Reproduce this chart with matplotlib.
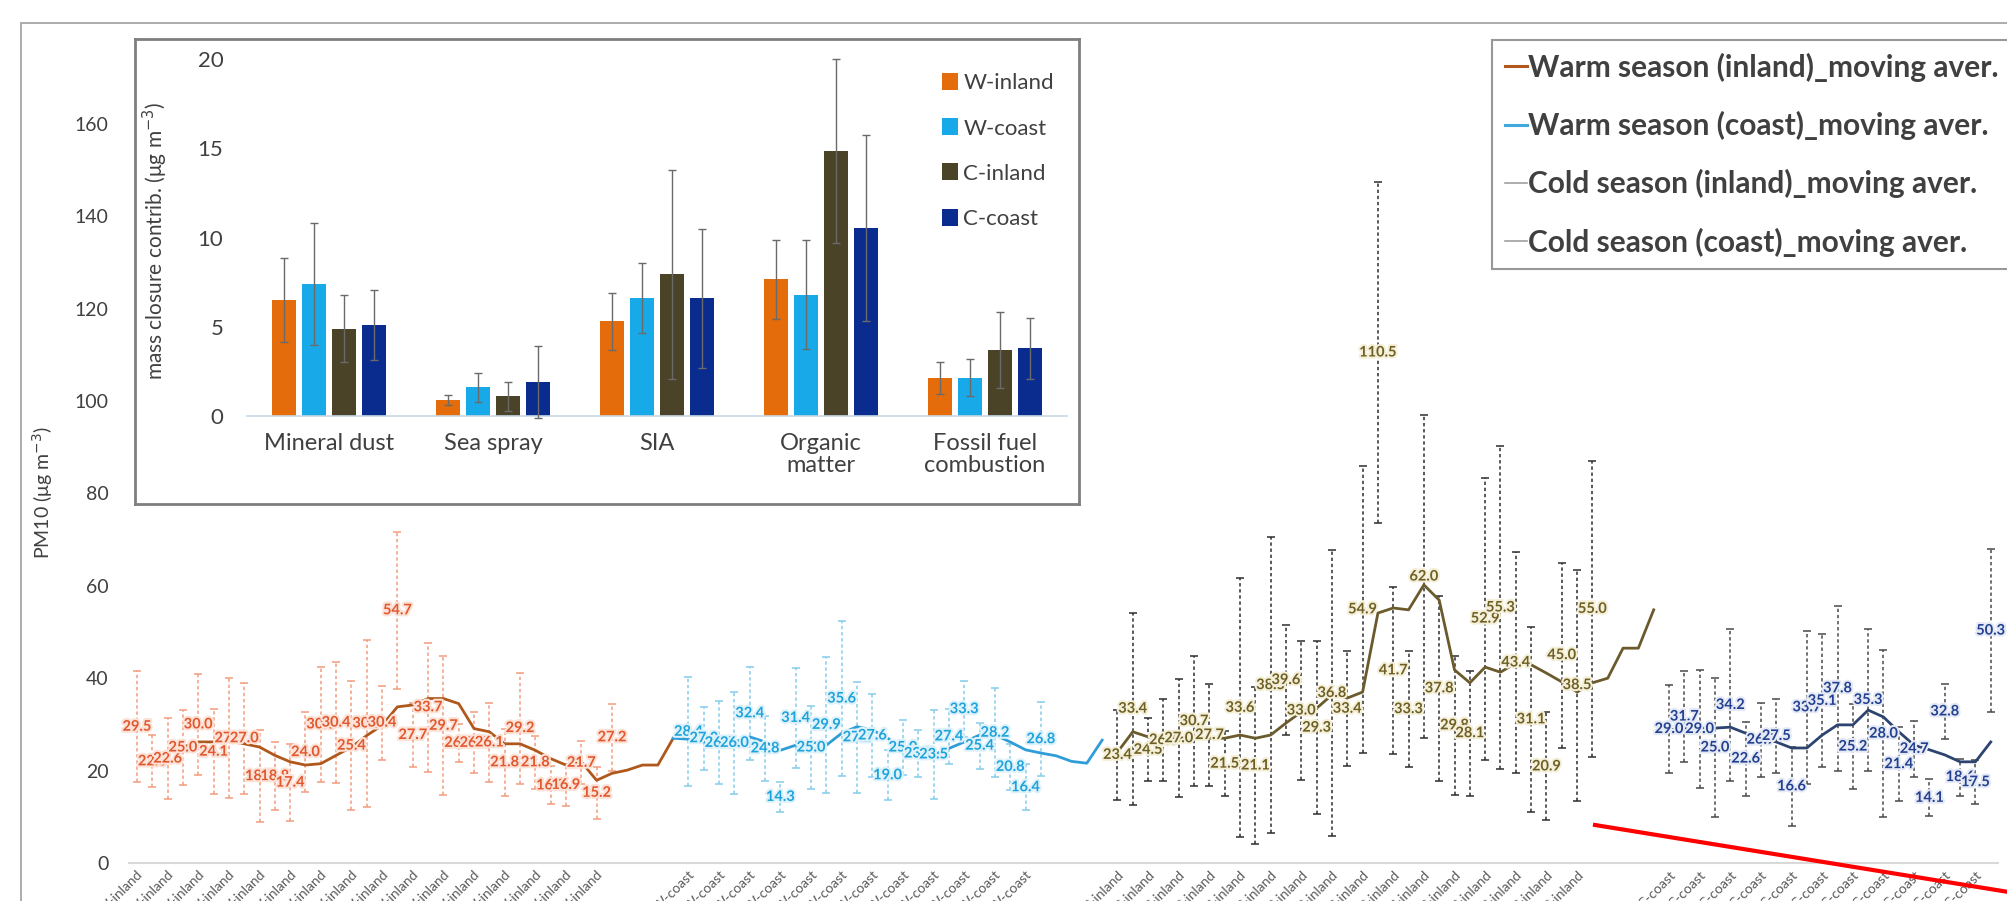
import matplotlib
matplotlib.use('Agg')
import matplotlib.pyplot as plt
import matplotlib.patheffects as pe
from matplotlib.lines import Line2D
from matplotlib.patches import Rectangle
import numpy as np

plt.rcParams['font.family'] = ['Lato', 'DejaVu Sans']

# ---------------- main chart data (PM10 per sample) ----------------
n_cat = 122
wi_start, wc_start, ci_start, cc_start = 0, 36, 64, 100

wi_val = [29.5, 22.0, 22.6, 25.0, 30.0, 24.1, 27.0, 27.0, 18.8, 18.8, 17.4, 24.0, 30.0, 30.4, 25.4, 30.2,
          30.4, 54.7, 27.7, 33.7, 29.7, 26.0, 26.0, 26.1, 21.8, 29.2, 21.8, 16.8, 16.9, 21.7, 15.2, 27.2]
wi_sd = [12, 5.6, 8.7, 8.1, 11, 9.2, 13, 12, 10, 7.3, 8.3, 8.7, 12.5, 13, 14, 18,
         8, 17, 7, 14, 15, 4.1, 6.6, 8.5, 7.3, 12, 5.7, 4.1, 4.5, 4.7, 5.6, 7.2]

wc_val = [28.4, 27.0, 26.0, 26.0, 32.4, 24.8, 14.3, 31.4, 25.0, 29.9, 35.6, 27.2,
          27.6, 19.0, 25.0, 23.7, 23.5, 27.4, 33.3, 25.4, 28.2, 20.8, 16.4, 26.8]
wc_sd = [11.8, 6.8, 9, 11, 10, 7, 3.2, 10.8, 9, 14.7, 16.8, 12,
         9, 5.4, 6, 5, 9.7, 6, 6, 5, 9.6, 5, 5, 8]

ci_val = [23.4, 33.4, 24.5, 26.6, 27.0, 30.7, 27.7, 21.5, 33.6, 21.1, 38.5, 39.6, 33.0, 29.3, 36.8, 33.4,
          54.9, 110.5, 41.7, 33.3, 62.0, 37.8, 29.8, 28.1, 52.9, 55.3, 43.4, 31.1, 20.9, 45.0, 38.5, 55.0]
ci_sd = [9.7, 20.8, 6.8, 8.9, 12.8, 14, 11, 7, 28, 17, 32, 12, 15, 18.7, 31, 12.5,
         31, 37, 18, 12.5, 35, 20, 15, 13.5, 30.5, 35, 24, 20, 11.7, 20, 25, 32]

cc_val = [29.0, 31.7, 29.0, 25.0, 34.2, 22.6, 26.7, 27.5, 16.6, 33.7, 35.1, 37.8, 25.2, 35.3, 28.0,
          21.4, 24.7, 14.1, 32.8, 18.6, 17.5, 50.3]
cc_sd = [9.5, 9.9, 12.7, 15, 16.5, 8, 8, 8, 8.5, 16.5, 14.4, 17.8, 9.2, 15.4, 18,
         8, 6, 4, 6, 4, 4.8, 17.6]

# moving averages
wi_ma_start = 3
wi_ma = [25.1, 26.2, 26.2, 26.4, 25.8, 25.1, 23.3, 21.9, 21.2, 21.5, 23.3, 25.1, 27.6, 29.8, 33.8, 34.2,
         35.6, 35.6, 34.5, 29.1, 28.4, 25.8, 25.8, 24.4, 22.6, 21.2, 21.9, 17.9, 19.4, 20.1, 21.2, 21.2, 27.0]
wc_ma_start = 35
wc_ma = [27.0, 26.8, 26.2, 25.5, 26.2, 27.3, 26.2, 24.4, 25.5, 26.2, 25.5, 28.1, 29.5, 28.8, 27.0,
         24.8, 23.4, 23.4, 24.8, 26.2, 27.7, 27.7, 26.2, 24.5, 23.8, 23.2, 22.0, 21.6, 26.6]
ci_ma_start = 64
ci_ma = [24.0, 28.4, 27.3, 27.0, 27.0, 27.3, 27.0, 27.0, 27.7, 27.0, 27.7, 30.3, 32.7, 33.5, 36.4, 35.7,
         37.0, 54.1, 55.2, 54.8, 60.2, 56.9, 41.8, 39.0, 42.4, 41.3, 43.3, 42.9, 41.1, 39.2, 37.0, 39.0,
         40.0, 46.5, 46.5, 54.8]
cc_ma_start = 100
cc_ma = [28.8, 29.2, 29.2, 29.2, 29.4, 28.1, 27.1, 26.2, 24.9, 24.9, 27.7, 29.9, 29.9, 33.1, 31.6,
         28.4, 25.5, 24.5, 23.4, 21.9, 21.9, 26.2]

legend_labels = ['Warm season (inland)_moving aver.', 'Warm season (coast)_moving aver.',
                 'Cold season (inland)_moving aver.', 'Cold season (coast)_moving aver.']

# ---------------- inset data (mass closure) ----------------
components = ['Mineral dust', 'Sea spray', 'SIA', 'Organic\nmatter', 'Fossil fuel\ncombustion']
inset_series = ['W-inland', 'W-coast', 'C-inland', 'C-coast']
w_inland = [6.5, 0.9, 5.3, 7.65, 2.15]
w_inland_err = [2.35, 0.3, 1.6, 2.2, 0.9]
w_coast = [7.4, 1.6, 6.6, 6.8, 2.15]
w_coast_err = [3.4, 0.8, 1.95, 3.05, 1.05]
c_inland = [4.9, 1.1, 7.95, 14.85, 3.7]
c_inland_err = [1.9, 0.8, 5.85, 5.15, 2.15]
c_coast = [5.1, 1.9, 6.6, 10.55, 3.8]
c_coast_err = [1.95, 2.0, 3.9, 5.2, 1.7]

W, H = 2008, 901
fig = plt.figure(figsize=(W / 100, H / 100), dpi=100)
fig.patch.set_facecolor('white')

# outer chart-area frame
fig.add_artist(Rectangle((21 / W, -0.1), 1.5, 1 - 23 / H + 0.1, transform=fig.transFigure,
                         fill=False, edgecolor='#A6A6A6', linewidth=1.3, zorder=0))

# ---------------- main axes ----------------
x0, x1 = 129.3, 1998.4
ytop = 54.5
ax = fig.add_axes([x0 / W, (H - 863) / H, (x1 - x0) / W, (863 - ytop) / H])
ax.set_xlim(-0.5, n_cat - 0.5)
ax.set_ylim(0, 175)
for s in ['top', 'right', 'left']:
    ax.spines[s].set_visible(False)
ax.spines['bottom'].set_color('#D9D9D9')
ax.spines['bottom'].set_linewidth(1.5)
ax.set_yticks(range(0, 161, 20))
ax.tick_params(axis='y', length=0, pad=15, labelsize=14, labelcolor='#404040')
ax.set_ylabel('PM10 (μg m$^{-3}$)', fontsize=14, color='#404040')
ax.yaxis.set_label_coords(-0.040, 0.458)

cat_labels = [''] * n_cat
groups = [
    (wi_start, wi_val, wi_sd, 'W-inland', '#F29C7E', '#E2572E', '#FBE1D6'),
    (wc_start, wc_val, wc_sd, 'W-coast', '#86CDEB', '#1CA3DB', '#DDF1FA'),
    (ci_start, ci_val, ci_sd, 'C-inland', '#2E2E2E', '#6E5F24', '#F4EFD8'),
    (cc_start, cc_val, cc_sd, 'C-coast', '#4A4A4A', '#22408F', '#E4E9F5'),
]
for start, vals, sds, name, ecol, tcol, glow in groups:
    xs = np.arange(start, start + len(vals))
    for i in xs:
        cat_labels[i] = name
    eb = ax.errorbar(xs, vals, yerr=sds, fmt='none', ecolor=ecol, elinewidth=1.1,
                     capsize=3, capthick=1.1, zorder=2)
    eb[2][0].set_linestyle((0, (2.2, 1.8)))
    for x, v in zip(xs, vals):
        ax.text(x, v, f'{v:.1f}', ha='center', va='center', fontsize=10.5, color=tcol,
                fontweight='bold', zorder=4,
                path_effects=[pe.withStroke(linewidth=3, foreground=glow)])

ma_sets = [
    (wi_ma_start, wi_ma, '#B0581C'),
    (wc_ma_start, wc_ma, '#2F9ED8'),
    (ci_ma_start, ci_ma, '#6A5A2C'),
    (cc_ma_start, cc_ma, '#2E4470'),
]
for start, ma, col in ma_sets:
    ax.plot(np.arange(start, start + len(ma)), ma, color=col, linewidth=2.0, zorder=3)

ticks = list(range(0, n_cat, 2))
ax.set_xticks(ticks)
ax.set_xticklabels([cat_labels[i] for i in ticks], rotation=45, ha='right',
                   rotation_mode='anchor', fontsize=10, color='#595959')
ax.tick_params(axis='x', length=0, pad=4)

leg_handles = [Line2D([], [], color='#B0581C', lw=2.2), Line2D([], [], color='#41A8DC', lw=2.2),
               Line2D([], [], color='#A0A0A0', lw=1.2), Line2D([], [], color='#A0A0A0', lw=1.2)]
leg = fig.legend(leg_handles, legend_labels, loc='upper left', bbox_to_anchor=(1492 / W, 1 - 40 / H),
                 borderaxespad=0, prop={'size': 21.5, 'weight': 'bold'}, frameon=True, fancybox=False,
                 edgecolor='#7F7F7F', handlelength=0.75, handletextpad=0.05, labelspacing=0.98,
                 borderpad=0.42)
leg.get_frame().set_linewidth(1.5)
for t in leg.get_texts():
    t.set_color('#404040')

# ---------------- inset ----------------
box = fig.add_axes([135 / W, 1 - 504 / H, (1079 - 135) / W, (504 - 39) / H])
box.set_xticks([])
box.set_yticks([])
box.set_facecolor('white')
for s in box.spines.values():
    s.set_color('#7F7F7F')
    s.set_linewidth(2)

ins = fig.add_axes([247 / W, 1 - 416 / H, (1067 - 247) / W, (416 - 59) / H])
ins.patch.set_alpha(0)
ins.set_xlim(-0.5, len(components) - 0.5)
ins.set_ylim(0, 20)
for s in ['top', 'right', 'left']:
    ins.spines[s].set_visible(False)
ins.spines['bottom'].set_color('#C9D9E6')
ins.spines['bottom'].set_linewidth(1.2)
ins.set_yticks([0, 5, 10, 15, 20])
ins.tick_params(axis='y', length=0, pad=17, labelsize=16, labelcolor='#404040')
ins.set_xticks(range(len(components)))
ins.set_xticklabels(components, fontsize=17, color='#404040', linespacing=1.1)
ins.tick_params(axis='x', length=0, pad=12)
ins.set_ylabel('mass closure contrib. (μg m$^{-3}$)', fontsize=15, color='#404040')
ins.yaxis.set_label_coords(-0.094, 0.49)

bar_sets = [(w_inland, w_inland_err, '#E46C0A'), (w_coast, w_coast_err, '#17A9E8'),
            (c_inland, c_inland_err, '#4A4327'), (c_coast, c_coast_err, '#0B2C8F')]
step, bw = 0.183, 0.146
xc = np.arange(len(components))
for k, (vals, errs, col) in enumerate(bar_sets):
    pos = xc + (k - 1.5) * step
    ins.bar(pos, vals, width=bw, color=col, label=inset_series[k], zorder=2)
    ins.errorbar(pos, vals, yerr=errs, fmt='none', ecolor='#6A6A6A', elinewidth=1,
                 capsize=3, capthick=1, zorder=3, clip_on=False)

ileg = ins.legend(loc='upper left', bbox_to_anchor=(0.837, 0.985), frameon=False, fontsize=16,
                  handlelength=0.7, handleheight=0.8, handletextpad=0.25, labelspacing=1.12,
                  borderaxespad=0)
for t in ileg.get_texts():
    t.set_color('#404040')

# red annotation line
fig.add_artist(Line2D([1595 / W, 1.05], [1 - 825 / H, 1 - (825 + 0.162 * (1.05 * W - 1595)) / H],
                      transform=fig.transFigure, color='#FF0000', linewidth=3.0, zorder=10))

fig.savefig('out.png', dpi=100)
